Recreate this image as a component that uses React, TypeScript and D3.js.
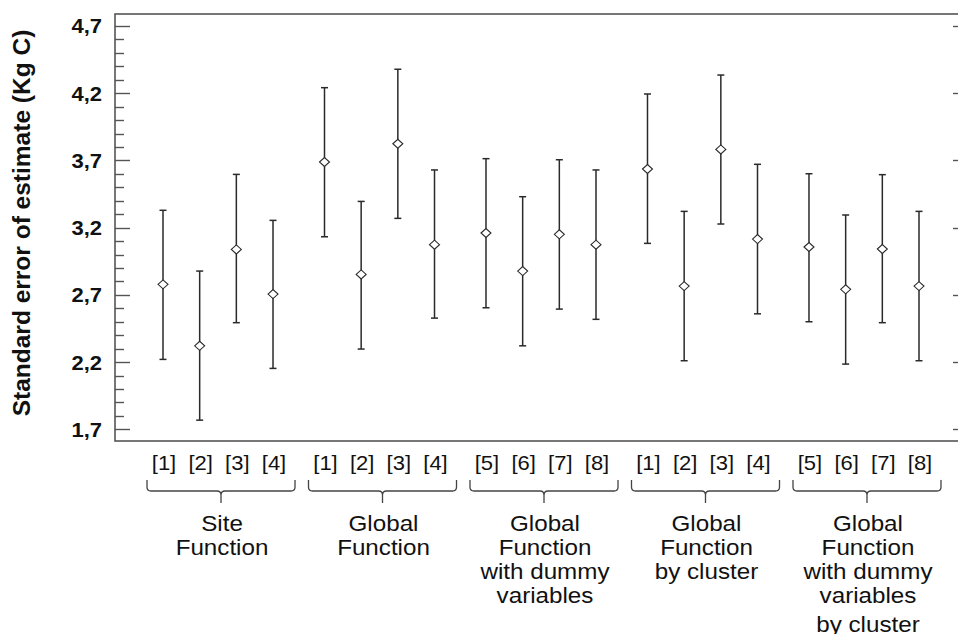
import React from "react";
import * as d3 from "d3";

const categoryLabels = ["[1]", "[2]", "[3]", "[4]", "[1]", "[2]", "[3]", "[4]", "[5]", "[6]", "[7]", "[8]", "[1]", "[2]", "[3]", "[4]", "[5]", "[6]", "[7]", "[8]"];
const means = [2.778, 2.321, 3.038, 2.706, 3.688, 2.852, 3.824, 3.073, 3.160, 2.877, 3.150, 3.073, 3.636, 2.765, 3.782, 3.115, 3.056, 2.741, 3.041, 2.765];
const lowers = [2.220, 1.768, 2.493, 2.153, 3.132, 2.297, 3.269, 2.527, 2.604, 2.321, 2.594, 2.518, 3.083, 2.210, 3.227, 2.559, 2.500, 2.185, 2.493, 2.210];
const uppers = [3.329, 2.877, 3.596, 3.254, 4.241, 3.395, 4.378, 3.629, 3.713, 3.430, 3.705, 3.629, 4.194, 3.321, 4.335, 3.671, 3.601, 3.294, 3.594, 3.321];
const groupLabels = [
  ["Site", "Function"],
  ["Global", "Function"],
  ["Global", "Function", "with dummy", "variables"],
  ["Global", "Function", "by cluster"],
  ["Global", "Function", "with dummy", "variables", "by cluster"],
];
const yMajorTicks = [1.7, 2.2, 2.7, 3.2, 3.7, 4.2, 4.7];
const yTitle = "Standard error of estimate (Kg C)";

const W = 958;
const H = 634;
const left = 115;
const right = 968;
const top = 14;
const bottom = 441;
const perGroup = 4;
const gapFrac = 0.404;
const font = "'Liberation Sans', Arial, sans-serif";
const sx = 1.1;

export default function App() {
  const y = d3.scaleLinear().domain([1.613, 4.789]).range([bottom, top]);
  const slot = (i: number) => i + Math.floor(i / perGroup) * gapFrac;
  const x = d3.scaleLinear().domain([0, slot(19)]).range([163, 919]);
  const minorTicks = d3.range(17, 48).map((v) => v / 10);
  const isMajor = (v: number) => yMajorTicks.some((m) => Math.abs(m - v) < 1e-6);
  const fmt = (v: number) => d3.format(".1f")(v).replace(".", ",");

  const groups = groupLabels.map((lines, g) => {
    const a = x(slot(g * perGroup)) - 16;
    const b = x(slot(g * perGroup + perGroup - 1)) + 22;
    return { lines, a, b, m: (a + b) / 2 };
  });
  const lineOffsets = [0, 24.5, 48.5, 72.5, 101.5];

  return (
    <svg width={W} height={H} style={{ position: "absolute", left: 0, top: 0, background: "#fff" }}>
      {/* frame */}
      <rect x={left} y={top} width={right - left} height={bottom - top} fill="none" stroke="#555" strokeWidth={1.6} />
      {/* y ticks left and right */}
      {minorTicks.map((v, i) => {
        const len = isMajor(v) ? 15 : 9;
        const yy = Math.round(y(v)) + 0.5;
        return (
          <g key={i} stroke="#555" strokeWidth={1.4}>
            <line x1={left} x2={left + len} y1={yy} y2={yy} />
            <line x1={right} x2={right - len} y1={yy} y2={yy} />
          </g>
        );
      })}
      {yMajorTicks.map((v, i) => (
        <text
          key={i}
          transform={`translate(102,${y(v) + 7.5}) scale(${sx},1)`}
          textAnchor="end"
          fontFamily={font}
          fontWeight="bold"
          fontSize={20}
          fill="#111"
        >
          {fmt(v)}
        </text>
      ))}
      <text
        transform={`translate(30,223) rotate(-90)`}
        textAnchor="middle"
        fontFamily={font}
        fontWeight="bold"
        fontSize={24.5}
        fill="#111"
      >
        {yTitle}
      </text>
      {/* error bars */}
      {means.map((m, i) => {
        const cx = x(slot(i));
        return (
          <g key={i} stroke="#2a2a2a" strokeWidth={1.5}>
            <line x1={cx} x2={cx} y1={y(uppers[i])} y2={y(lowers[i])} />
            <line x1={cx - 3.5} x2={cx + 3.5} y1={y(uppers[i])} y2={y(uppers[i])} />
            <line x1={cx - 3.5} x2={cx + 3.5} y1={y(lowers[i])} y2={y(lowers[i])} />
            <path
              d={`M${cx - 5},${y(m)} L${cx},${y(m) - 4.5} L${cx + 5},${y(m)} L${cx},${y(m) + 4.5} Z`}
              fill="#fff"
              strokeWidth={1.1}
            />
          </g>
        );
      })}
      {/* category labels */}
      {categoryLabels.map((c, i) => (
        <text
          key={i}
          transform={`translate(${x(slot(i)) + 1},470) scale(${sx},1)`}
          textAnchor="middle"
          fontFamily={font}
          fontSize={20}
          fill="#111"
        >
          {c}
        </text>
      ))}
      {/* braces and group labels */}
      {groups.map((g, gi) => (
        <g key={gi}>
          <path
            d={`M${g.a},480 L${g.a},487 Q${g.a},491 ${g.a + 4},491 L${g.m - 4},491 Q${g.m},491 ${g.m},495 L${g.m},503 M${g.m},495 Q${g.m},491 ${g.m + 4},491 L${g.b - 4},491 Q${g.b},491 ${g.b},487 L${g.b},480`}
            fill="none"
            stroke="#444"
            strokeWidth={1.3}
          />
          {g.lines.map((t, li) => (
            <text
              key={li}
              transform={`translate(${g.m + 1},${530.5 + lineOffsets[li]}) scale(${sx},1)`}
              textAnchor="middle"
              fontFamily={font}
              fontSize={22}
              fill="#111"
            >
              {t}
            </text>
          ))}
        </g>
      ))}
    </svg>
  );
}
